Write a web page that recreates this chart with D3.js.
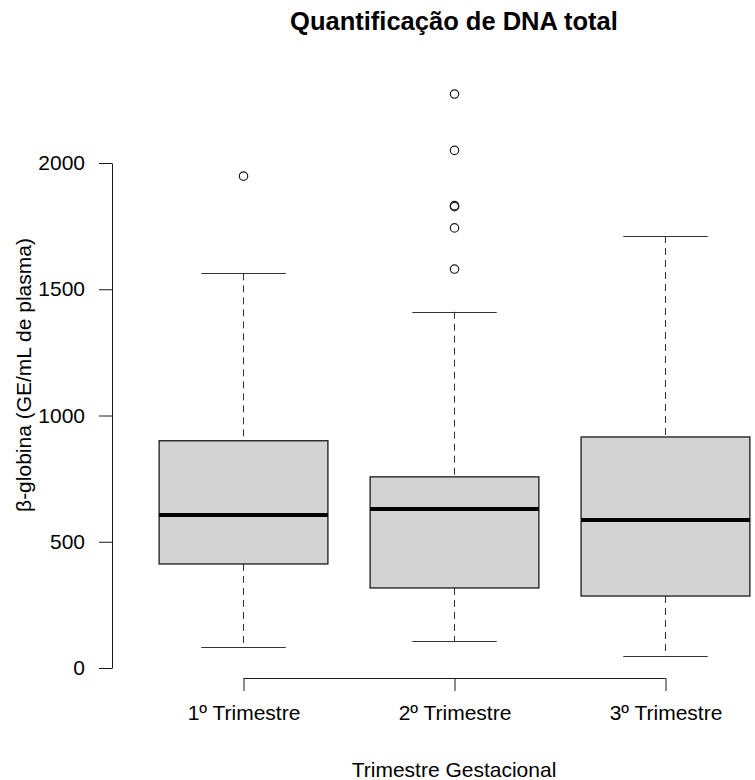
<!DOCTYPE html>
<html>
<head>
<meta charset="utf-8">
<script src="https://cdn.jsdelivr.net/npm/d3@7"></script>
<style>
  body { margin: 0; background: #fff; }
  text { font-family: "Liberation Sans", Arial, sans-serif; fill: #000; }
</style>
</head>
<body>
<div id="chart"></div>
<script>
// data
var groups = ["1º Trimestre", "2º Trimestre", "3º Trimestre"];
var whiskLow  = [84, 107, 48];
var q1        = [412, 317, 285];
var medians   = [606, 630, 586];
var q3        = [900, 757, 915];
var whiskHigh = [1563, 1411, 1711];
var outliers  = [[1948], [1580, 1743, 1827, 1831, 2050, 2273], []];
var yTicks    = [0, 500, 1000, 1500, 2000];

(function() {
    var width = 755, height = 780;

    var svg = d3.select('#chart')
        .append('svg')
        .attr('width', width)
        .attr('height', height);

    // R boxplot style ranges: xlim 0.5..3.5 extended by 4%
    var x = d3.scaleLinear().domain([0.38, 3.62]).range([112.7, 796.3]);
    var y = d3.scaleLinear().domain([0, 2000]).range([668, 163]);

    var boxW = 0.8, stapleW = 0.4;
    var ink = '#1a1a1a';
    var font = '"Liberation Sans", Arial, sans-serif';

    var boxes = groups.map(function(g, i) {
        return { name: g, pos: i + 1, lo: whiskLow[i], q1: q1[i], med: medians[i],
                 q3: q3[i], hi: whiskHigh[i], out: outliers[i] };
    });

    var g = svg.selectAll('.box')
        .data(boxes)
        .enter().append('g')
        .attr('class', 'box');

    // whiskers (dashed)
    g.append('line')
        .attr('x1', function(d) { return x(d.pos) }).attr('x2', function(d) { return x(d.pos) })
        .attr('y1', function(d) { return y(d.hi) }).attr('y2', function(d) { return y(d.q3) })
        .attr('stroke', '#333').attr('stroke-dasharray', '7,5');
    g.append('line')
        .attr('x1', function(d) { return x(d.pos) }).attr('x2', function(d) { return x(d.pos) })
        .attr('y1', function(d) { return y(d.q1) }).attr('y2', function(d) { return y(d.lo) })
        .attr('stroke', '#333').attr('stroke-dasharray', '7,5');

    // staples
    ['hi', 'lo'].forEach(function(k) {
        g.append('line')
            .attr('x1', function(d) { return x(d.pos - stapleW / 2) })
            .attr('x2', function(d) { return x(d.pos + stapleW / 2) })
            .attr('y1', function(d) { return Math.round(y(d[k])) + 0.5 })
            .attr('y2', function(d) { return Math.round(y(d[k])) + 0.5 })
            .attr('stroke', '#333').attr('stroke-width', 1.2);
    });

    // box
    g.append('rect')
        .attr('x', function(d) { return x(d.pos - boxW / 2) })
        .attr('width', function(d) { return x(d.pos + boxW / 2) - x(d.pos - boxW / 2) })
        .attr('y', function(d) { return y(d.q3) })
        .attr('height', function(d) { return y(d.q1) - y(d.q3) })
        .attr('fill', '#d3d3d3')
        .attr('stroke', ink).attr('stroke-width', 1.3);

    // median
    g.append('line')
        .attr('x1', function(d) { return x(d.pos - boxW / 2) })
        .attr('x2', function(d) { return x(d.pos + boxW / 2) })
        .attr('y1', function(d) { return y(d.med) })
        .attr('y2', function(d) { return y(d.med) })
        .attr('stroke', '#000').attr('stroke-width', 4);

    // outliers
    g.selectAll('.out')
        .data(function(d) { return d.out.map(function(v) { return { pos: d.pos, v: v } }) })
        .enter().append('circle')
        .attr('class', 'out')
        .attr('cx', function(d) { return x(d.pos) })
        .attr('cy', function(d) { return y(d.v) })
        .attr('r', 4.2)
        .attr('fill', 'none')
        .attr('stroke', ink).attr('stroke-width', 1.2);

    // y axis
    var yAxis = svg.append('g')
        .attr('transform', 'translate(112,0)')
        .call(d3.axisLeft(y).tickValues(yTicks).tickFormat(d3.format('d'))
            .tickSize(13).tickPadding(14).tickSizeOuter(0));
    yAxis.select('.domain').attr('stroke', ink);
    yAxis.selectAll('.tick line').attr('stroke', ink);
    yAxis.selectAll('text').attr('font-size', '21px').attr('fill', '#000')
        .attr('font-family', font);

    // x axis (R draws the line only between first and last tick)
    var xAxis = svg.append('g')
        .attr('transform', 'translate(0,678)')
        .call(d3.axisBottom(x).tickValues([1, 2, 3])
            .tickFormat(function(d) { return groups[d - 1] })
            .tickSize(13).tickPadding(14).tickSizeOuter(0));
    xAxis.select('.domain').remove();
    xAxis.append('line')
        .attr('x1', x(1)).attr('x2', x(3)).attr('y1', 0.5).attr('y2', 0.5)
        .attr('stroke', ink);
    xAxis.selectAll('.tick line').attr('stroke', ink);
    xAxis.selectAll('text').attr('font-size', '21px').attr('fill', '#000')
        .attr('font-family', font);

    // titles
    svg.append('text')
        .attr('x', 454).attr('y', 30)
        .attr('text-anchor', 'middle')
        .attr('font-size', '25.5px').attr('font-weight', 'bold')
        .text('Quantificação de DNA total');

    svg.append('text')
        .attr('x', 454).attr('y', 777)
        .attr('text-anchor', 'middle')
        .attr('font-size', '21px')
        .text('Trimestre Gestacional');

    svg.append('text')
        .attr('transform', 'translate(31,375) rotate(-90)')
        .attr('text-anchor', 'middle')
        .attr('font-size', '21px')
        .text('β-globina (GE/mL de plasma)');
})();
</script>
</body>
</html>
